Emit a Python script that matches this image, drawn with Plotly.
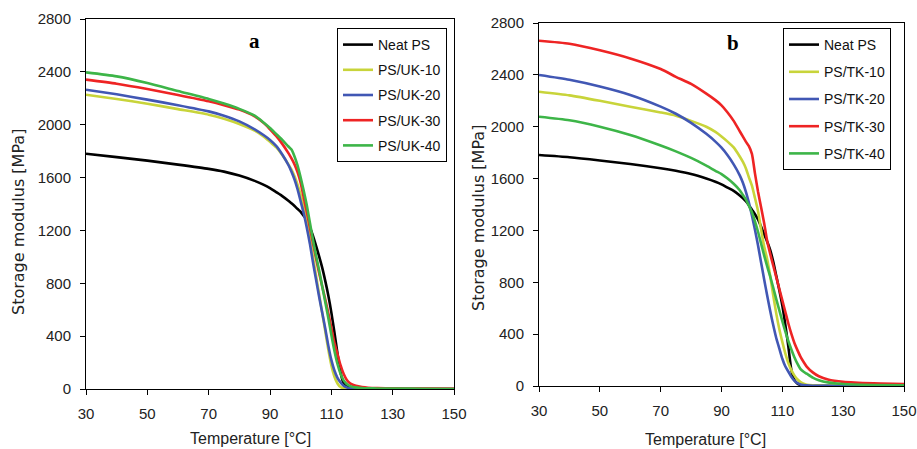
import plotly.graph_objects as go

# temperature grid (°C), shared by both panels
temp = [30, 40, 50, 60, 70, 75, 80, 85, 88, 90, 92, 94, 96, 97, 98, 99, 100, 101, 102, 103,
        104, 105, 106, 107, 108, 109, 110, 111, 112, 113, 114, 115, 116, 117, 118, 120, 122,
        125, 130, 140, 150]

# panel a - storage modulus (MPa)
neat_a = [1780, 1755, 1728, 1698, 1666, 1645, 1615, 1575, 1545, 1520, 1490, 1460, 1425, 1405, 1385, 1362,
          1340, 1310, 1278, 1225, 1160, 1085, 1005, 920, 820, 710, 580, 430, 270, 125, 45, 18, 8, 5, 4,
          3, 2, 2, 1, 0, 0]
uk10 = [2227, 2195, 2159, 2118, 2076, 2045, 2005, 1955, 1910, 1870, 1830, 1770, 1700, 1660, 1610, 1545,
        1470, 1380, 1270, 1140, 1000, 860, 720, 580, 440, 300, 180, 95, 42, 15, 5, 3, 2, 2, 2,
        2, 1, 1, 1, 0, 0]
uk20 = [2265, 2230, 2190, 2148, 2101, 2068, 2025, 1965, 1920, 1885, 1840, 1775, 1695, 1645, 1585, 1510,
        1420, 1330, 1220, 1100, 960, 830, 700, 580, 460, 330, 220, 140, 85, 50, 25, 12, 6, 4, 3,
        2, 1, 1, 1, 0, 0]
uk30 = [2341, 2310, 2270, 2225, 2177, 2148, 2114, 2063, 2012, 1965, 1915, 1855, 1785, 1745, 1700, 1640,
        1560, 1450, 1340, 1225, 1105, 990, 880, 780, 680, 575, 465, 350, 265, 180, 115, 70, 45, 32, 24,
        15, 10, 7, 5, 3, 1]
uk40 = [2396, 2366, 2316, 2255, 2195, 2160, 2120, 2068, 2015, 1975, 1930, 1885, 1835, 1812, 1760, 1690,
        1600, 1500, 1390, 1260, 1130, 1010, 900, 780, 660, 540, 410, 290, 190, 115, 65, 38, 24, 16, 12,
        7, 5, 4, 3, 2, 0]

# panel b - storage modulus (MPa)
neat_b = [1782, 1765, 1740, 1712, 1680, 1660, 1635, 1600, 1575, 1555, 1530, 1505, 1470, 1450, 1425, 1395,
          1360, 1325, 1285, 1230, 1170, 1115, 1050, 960, 850, 740, 620, 470, 300, 120, 45, 18, 8, 5, 3,
          2, 1, 1, 0, 0, 0]
tk10 = [2270, 2242, 2200, 2154, 2110, 2085, 2045, 2000, 1960, 1925, 1885, 1840, 1770, 1730, 1680, 1610,
        1545, 1450, 1350, 1210, 1080, 980, 850, 700, 560, 440, 340, 250, 175, 120, 80, 50, 30, 18, 10,
        5, 3, 2, 1, 0, 0]
tk20 = [2399, 2362, 2310, 2245, 2155, 2100, 2030, 1945, 1885, 1838, 1780, 1710, 1625, 1570, 1500, 1415,
        1315, 1205, 1085, 955, 825, 700, 580, 470, 370, 290, 210, 150, 110, 70, 40, 22, 12, 8, 5,
        2, 1, 1, 0, 0, 0]
tk30 = [2663, 2640, 2590, 2527, 2445, 2385, 2330, 2255, 2205, 2165, 2110, 2045, 1965, 1925, 1885, 1850,
        1790, 1640, 1500, 1380, 1260, 1120, 1020, 930, 840, 750, 660, 570, 480, 400, 330, 275, 225, 185, 150,
        105, 75, 50, 32, 20, 15]
tk40 = [2077, 2050, 2000, 1936, 1855, 1810, 1760, 1700, 1660, 1635, 1600, 1560, 1510, 1475, 1440, 1390,
        1340, 1270, 1190, 1100, 1010, 925, 845, 760, 670, 585, 500, 420, 345, 280, 220, 170, 130, 110, 95,
        65, 45, 28, 15, 8, 5]

names_a = ["Neat PS", "PS/UK-10", "PS/UK-20", "PS/UK-30", "PS/UK-40"]
names_b = ["Neat PS", "PS/TK-10", "PS/TK-20", "PS/TK-30", "PS/TK-40"]
colors = ["#000000", "#c8d43a", "#4157b4", "#ee2424", "#3db548"]

W, H = 917, 449
sans = "Liberation Sans, Arial, sans-serif"

def px(x):
    return x / W

def py(y):
    return 1 - y / H

fig = go.Figure()

for name, y, c in zip(names_a, [neat_a, uk10, uk20, uk30, uk40], colors):
    fig.add_trace(go.Scatter(x=temp, y=y, name=name, mode="lines",
                             line=dict(color=c, width=2.6, shape="spline", smoothing=0.6),
                             xaxis="x", yaxis="y", legend="legend", legendgroup="a" + name))
for name, y, c in zip(names_b, [neat_b, tk10, tk20, tk30, tk40], colors):
    fig.add_trace(go.Scatter(x=temp, y=y, name=name, mode="lines",
                             line=dict(color=c, width=2.6, shape="spline", smoothing=0.6),
                             xaxis="x2", yaxis="y2", legend="legend2", legendgroup="b" + name))

def xax(dom, anchor):
    return dict(domain=dom, anchor=anchor, range=[30, 150], tickvals=[30, 50, 70, 90, 110, 130, 150],
                showgrid=False, zeroline=False, showline=True, linecolor="black", linewidth=1,
                mirror=True, ticks="outside", ticklen=5, tickcolor="black", automargin=False,
                tickfont=dict(family=sans, size=15, color="#222"), ticklabelstandoff=6)

def yax(dom, anchor):
    return dict(domain=dom, anchor=anchor, range=[0, 2800], tickvals=list(range(0, 2801, 400)),
                showgrid=False, zeroline=False, showline=True, linecolor="black", linewidth=1,
                mirror=True, ticks="outside", ticklen=5, tickcolor="black", automargin=False,
                tickfont=dict(family=sans, size=15, color="#222"), ticklabelstandoff=6)

legend_common = dict(bgcolor="white", bordercolor="black", borderwidth=1,
                     xanchor="left", yanchor="top", font=dict(family=sans, size=14, color="#111"),
                     itemwidth=30)

fig.update_layout(
    width=W, height=H,
    margin=dict(l=0, r=0, t=0, b=0, autoexpand=False),
    paper_bgcolor="white", plot_bgcolor="white",
    xaxis=xax([px(86), px(454)], "y"),
    yaxis=yax([py(389), py(19)], "x"),
    xaxis2=xax([px(539), px(904)], "y2"),
    yaxis2=yax([py(386), py(23)], "x2"),
    legend=dict(x=px(337), y=py(28), tracegroupgap=4, **legend_common),
    legend2=dict(x=px(783), y=py(28), tracegroupgap=6, **legend_common),
    showlegend=True,
)

annots = [
    dict(text="<b>a</b>", x=px(254), y=py(41), font=dict(family="Liberation Serif", size=21, color="black")),
    dict(text="<b>b</b>", x=px(733), y=py(43), font=dict(family="Liberation Serif", size=21, color="black")),
    dict(text="Storage modulus [MPa]", x=px(18), y=py(222), textangle=-90,
         font=dict(family="DejaVu Sans", size=16, color="#222")),
    dict(text="Storage modulus [MPa]", x=px(478), y=py(218), textangle=-90,
         font=dict(family="DejaVu Sans", size=16, color="#222")),
    dict(text="Temperature [°C]", x=px(250), y=py(438), font=dict(family=sans, size=16, color="#222")),
    dict(text="Temperature [°C]", x=px(705), y=py(439), font=dict(family=sans, size=16, color="#222")),
]
for a in annots:
    fig.add_annotation(xref="paper", yref="paper", showarrow=False, xanchor="center", yanchor="middle", **a)

# drop the browser's default 8 px body margin so the figure fills the window
fig.write_html("out.html", config={"displayModeBar": False},
               post_script="document.body.style.margin='0';document.body.style.overflow='hidden';")
